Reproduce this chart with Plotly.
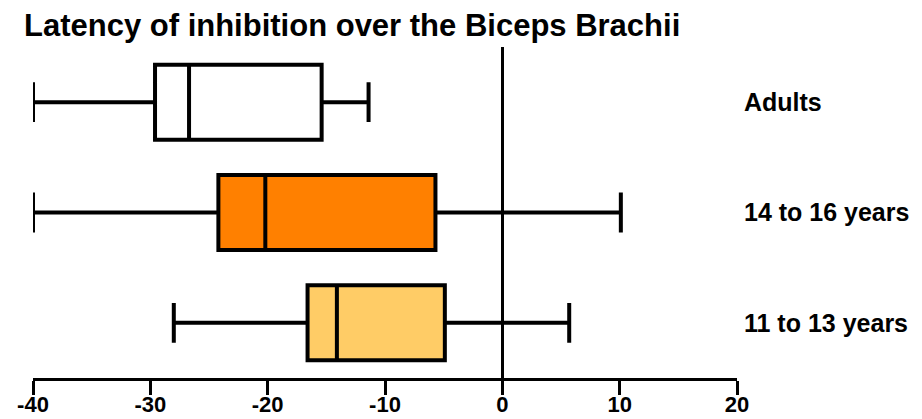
import plotly.graph_objects as go

categories = ["11 to 13 years", "14 to 16 years", "Adults"]
lower_whisker = [-28.0, -40.0, -40.0]
q1_values = [-16.6, -24.2, -29.6]
median_values = [-14.1, -20.2, -26.7]
q3_values = [-4.9, -5.7, -15.4]
upper_whisker = [5.7, 10.1, -11.4]
fill_colors = ["#FFCC66", "#FF8000", "#FFFFFF"]
x_ticks = [-40, -30, -20, -10, 0, 10, 20]

fig = go.Figure()
for i, cat in enumerate(categories):
    fig.add_trace(go.Box(
        y=[cat],
        q1=[q1_values[i]], median=[median_values[i]], q3=[q3_values[i]],
        lowerfence=[lower_whisker[i]], upperfence=[upper_whisker[i]],
        orientation="h",
        fillcolor=fill_colors[i],
        line=dict(color="black", width=4),
        width=0.68,
        whiskerwidth=0.53,
        boxpoints=False,
        showlegend=False,
        hoverinfo="skip",
    ))

# page has an 8px body margin, so the figure is sized to fit the window
fig.update_layout(
    width=914, height=411,
    margin=dict(l=25, r=185, t=39, b=41, autoexpand=False),
    paper_bgcolor="white", plot_bgcolor="white",
    title=dict(text="<b>Latency of inhibition over the Biceps Brachii</b>",
               font=dict(family="Liberation Sans", size=31, color="black"),
               x=0.0175, xanchor="left", y=0.958, yanchor="middle"),
    font=dict(family="Liberation Sans", color="black"),
)
fig.update_xaxes(
    range=[-40, 20], tickvals=x_ticks, ticktext=[f"<b>{v}</b>" for v in x_ticks],
    showgrid=False, showline=True, linecolor="black", linewidth=3,
    ticks="outside", ticklen=14, tickwidth=3, tickcolor="black",
    ticklabelstandoff=-9,
    tickfont=dict(size=22, color="black"), automargin=False,
    zeroline=True, zerolinecolor="black", zerolinewidth=3,
)
fig.update_yaxes(
    categoryorder="array", categoryarray=categories,
    range=[-0.5, 2.5], automargin=False,
    side="right", showgrid=False, showline=False, zeroline=False,
    ticks="", ticklabelstandoff=6,
    tickvals=categories, ticktext=[f"<b>{c}</b>" for c in categories],
    tickfont=dict(size=25, color="black"),
)
fig.write_html("out.html")
